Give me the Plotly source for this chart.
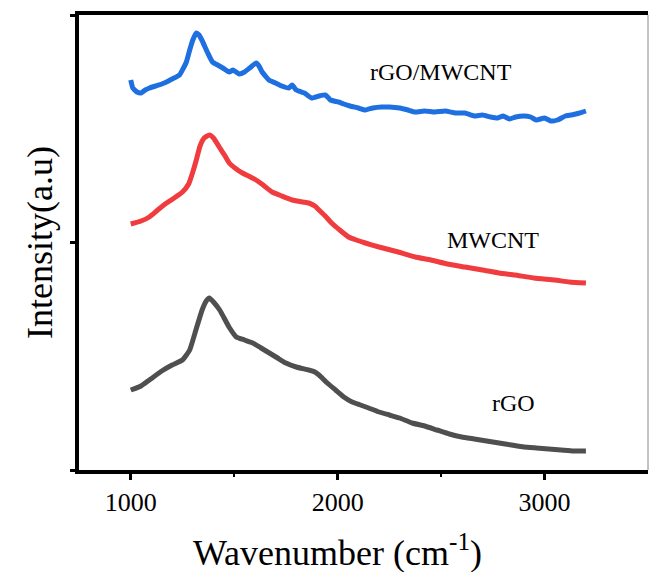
import plotly.graph_objects as go

# Wavenumber grids (cm^-1) and intensities (a.u.)
rgo_x = [1000, 1050, 1090, 1150, 1200, 1250, 1285, 1315, 1345, 1365, 1380, 1400, 1430, 1475, 1510, 1550,
         1590, 1630, 1670, 1710, 1750, 1800, 1860, 1890, 1910, 1950, 1990, 2030, 2070, 2110, 2150, 2200,
         2250, 2300, 2360, 2420, 2480, 2540, 2600, 2660, 2720, 2780, 2840, 2900, 2960, 3020, 3080, 3140, 3200]
rgo_y = [80, 84, 90, 99, 105, 110, 120, 140, 160, 169, 172, 168, 160, 143, 133, 130,
         127, 122, 117, 112, 107, 103, 100, 98, 95, 87, 80, 73, 68, 65, 62, 58,
         55, 52, 47, 44, 40, 36, 33, 31, 29, 27, 25, 23, 22, 21, 20, 19, 19]

mwcnt_x = [1000, 1050, 1090, 1130, 1173, 1210, 1250, 1280, 1300, 1317, 1335, 1355, 1380, 1400, 1428, 1450,
           1476, 1510, 1540, 1570, 1606, 1640, 1683, 1730, 1780, 1830, 1860, 1890, 1910, 1940, 1971, 2010,
           2053, 2090, 2134, 2200, 2293, 2375, 2450, 2530, 2615, 2700, 2780, 2856, 2950, 3050, 3120, 3200]
mwcnt_y = [246, 249, 253, 260, 267, 272, 278, 286, 298, 310, 324, 332, 335, 332, 323, 316,
           307, 301, 297, 294, 290, 285, 278, 274, 270, 268, 267, 264, 260, 254, 247, 240,
           233, 230, 227, 223, 218, 213, 210, 206, 203, 200, 197, 195, 192, 190, 188, 187]

comp_x = [1000, 1010, 1030, 1050, 1070, 1091, 1120, 1150, 1173, 1200, 1236, 1255, 1269, 1285, 1300, 1317,
          1330, 1346, 1370, 1395, 1420, 1445, 1476, 1495, 1524, 1550, 1575, 1606, 1620, 1635, 1668, 1700,
          1730, 1764, 1780, 1800, 1840, 1875, 1910, 1942, 1965, 2005, 2030, 2060, 2100, 2134, 2170, 2212,
          2250, 2300, 2340, 2375, 2420, 2470, 2520, 2570, 2615, 2660, 2700, 2740, 2774, 2800, 2830, 2860,
          2900, 2933, 2960, 3000, 3030, 3063, 3100, 3130, 3170, 3200]
comp_y = [390, 382, 378, 377, 380, 382, 384, 386, 388, 391, 395, 402, 408, 420, 430, 437,
          435, 429, 418, 408, 405, 402, 398, 400, 396, 398, 402, 407, 404, 398, 390, 387,
          384, 382, 385, 380, 377, 372, 374, 375, 370, 368, 366, 364, 362, 360, 362, 363,
          363, 362, 360, 358, 359, 358, 359, 357, 357, 354, 355, 353, 352, 354, 351, 353,
          354, 353, 350, 352, 349, 350, 354, 355, 357, 359]

labels = ["rGO/MWCNT", "MWCNT", "rGO"]
label_x = [2500, 2750, 2851]
label_y = [398, 230, 67]

x_ticks = [1000, 2000, 3000]
y_ticks = [0, 227.5, 455]

FONT = "Liberation Serif, Times New Roman, serif"

fig = go.Figure()
fig.add_trace(go.Scatter(x=rgo_x, y=rgo_y, mode="lines", name="rGO",
                         line=dict(color="#4f4f4f", width=5, shape="spline", smoothing=0.4)))
fig.add_trace(go.Scatter(x=mwcnt_x, y=mwcnt_y, mode="lines", name="MWCNT",
                         line=dict(color="#f03c3e", width=5, shape="spline", smoothing=0.4)))
fig.add_trace(go.Scatter(x=comp_x, y=comp_y, mode="lines", name="rGO/MWCNT",
                         line=dict(color="#1e6fe0", width=5, shape="spline", smoothing=0.4)))

for t, lx, ly in zip(labels, label_x, label_y):
    fig.add_annotation(x=lx, y=ly, text=t, showarrow=False,
                       font=dict(family=FONT, size=24, color="black"),
                       xanchor="center", yanchor="middle")

fig.add_annotation(xref="paper", yref="paper", x=0.455, y=-0.176,
                   text="Wavenumber (cm<sup>-1</sup>)", showarrow=False,
                   font=dict(family=FONT, size=36, color="black"),
                   xanchor="center", yanchor="middle")

fig.add_shape(type="line", xref="paper", yref="paper", x0=1, x1=1, y0=0, y1=1,
              line=dict(color="#888888", width=1))

fig.update_layout(
    width=649, height=572,
    margin=dict(l=79, r=1, t=15, b=102),
    plot_bgcolor="white", paper_bgcolor="white",
    showlegend=False,
    xaxis=dict(range=[750, 3500], tickvals=x_ticks, ticktext=[str(v) for v in x_ticks],
               showgrid=False, zeroline=False, showline=True, linecolor="black", linewidth=3.5,
               mirror=True, ticks="outside", ticklen=6, tickwidth=3, tickcolor="black",
               tickfont=dict(family=FONT, size=26, color="black"),
               minor=dict(tickvals=[1500, 2500], ticks="outside", ticklen=3, tickwidth=2, tickcolor="black")),
    yaxis=dict(range=[0, 455], tickvals=y_ticks, showticklabels=False,
               showgrid=False, zeroline=False, showline=True, linecolor="black", linewidth=3.5,
               ticks="outside", ticklen=5, tickwidth=3, tickcolor="black",
               title=dict(text="Intensity(a.u)", font=dict(family=FONT, size=36, color="black"),
                          standoff=8)),
)

fig.write_html("out.html")
